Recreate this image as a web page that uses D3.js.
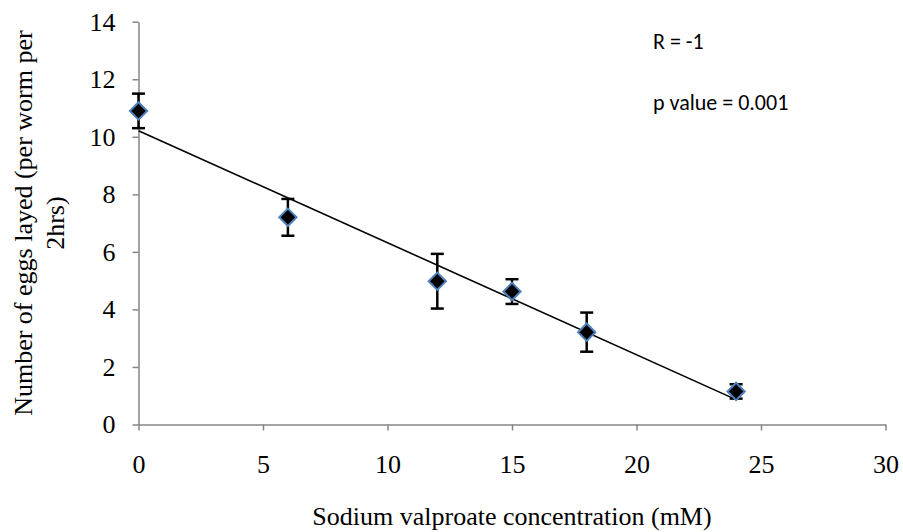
<!DOCTYPE html>
<html>
<head>
<meta charset="utf-8">
<script src="https://cdnjs.cloudflare.com/ajax/libs/d3/7.8.5/d3.min.js"></script>
<style>
  body { margin: 0; background: #fff; }
  svg { display: block; }
  .tick text { font-family: "Liberation Serif", "Times New Roman", serif; font-size: 26px; fill: #000; }
  .axis path, .axis line { stroke: #868686; stroke-width: 1.5px; }
</style>
</head>
<body>
<div id="chart"></div>
<script>
// sodium valproate concentration (mM)
var concentrations = [0, 6, 12, 15, 18, 24];
// mean eggs layed per worm per 2hrs
var eggsLayed = [10.9, 7.2, 4.98, 4.62, 3.21, 1.15];
// error bar half length
var eggsError = [0.6, 0.64, 0.95, 0.43, 0.68, 0.25];

var xTicks = [0, 5, 10, 15, 20, 25, 30];
var yTicks = [0, 2, 4, 6, 8, 10, 12, 14];

var svgWidth = 903;
var svgHeight = 532;

var margin = { top: 21.7, right: 17.5, bottom: 107.5, left: 138.5 };
var width = svgWidth - margin.left - margin.right;
var height = svgHeight - margin.top - margin.bottom;

var svg = d3.select("#chart")
  .append("svg")
  .attr("width", svgWidth)
  .attr("height", svgHeight);

var chartGroup = svg.append("g")
  .attr("transform", `translate(${margin.left}, ${margin.top})`);

var data = concentrations.map((c, i) => ({ x: c, y: eggsLayed[i], err: eggsError[i] }));

// scales
var xLinearScale = d3.scaleLinear().domain([0, 30]).range([0, width]);
var yLinearScale = d3.scaleLinear().domain([0, 14]).range([height, 0]);

// axes
var bottomAxis = d3.axisBottom(xLinearScale)
  .tickValues(xTicks)
  .tickSizeInner(6)
  .tickSizeOuter(0)
  .tickPadding(24);

var leftAxis = d3.axisLeft(yLinearScale)
  .tickValues(yTicks)
  .tickSizeInner(6)
  .tickSizeOuter(0)
  .tickPadding(17);

chartGroup.append("g")
  .attr("class", "axis")
  .attr("transform", `translate(0, ${height})`)
  .call(bottomAxis);

chartGroup.append("g")
  .attr("class", "axis")
  .call(leftAxis);

// linear trend line (least squares fit of the points)
var meanX = d3.mean(data, d => d.x);
var meanY = d3.mean(data, d => d.y);
var slope = d3.sum(data, d => (d.x - meanX) * (d.y - meanY)) / d3.sum(data, d => (d.x - meanX) * (d.x - meanX));
var intercept = meanY - slope * meanX;
var xExtent = d3.extent(data, d => d.x);

chartGroup.append("line")
  .attr("x1", xLinearScale(xExtent[0]))
  .attr("y1", yLinearScale(intercept + slope * xExtent[0]))
  .attr("x2", xLinearScale(xExtent[1]))
  .attr("y2", yLinearScale(intercept + slope * xExtent[1]))
  .attr("stroke", "#000")
  .attr("stroke-width", 1.6);

// error bars
var errGroup = chartGroup.selectAll(".err")
  .data(data)
  .enter()
  .append("g")
  .attr("class", "err")
  .attr("stroke", "#000")
  .attr("stroke-width", 2.5);

errGroup.append("line")
  .attr("x1", d => xLinearScale(d.x))
  .attr("x2", d => xLinearScale(d.x))
  .attr("y1", d => yLinearScale(d.y + d.err))
  .attr("y2", d => yLinearScale(d.y - d.err));

errGroup.append("line")
  .attr("x1", d => xLinearScale(d.x) - 6.5)
  .attr("x2", d => xLinearScale(d.x) + 6.5)
  .attr("y1", d => yLinearScale(d.y + d.err))
  .attr("y2", d => yLinearScale(d.y + d.err));

errGroup.append("line")
  .attr("x1", d => xLinearScale(d.x) - 6.5)
  .attr("x2", d => xLinearScale(d.x) + 6.5)
  .attr("y1", d => yLinearScale(d.y - d.err))
  .attr("y2", d => yLinearScale(d.y - d.err));

// diamond markers
chartGroup.selectAll(".marker")
  .data(data)
  .enter()
  .append("path")
  .attr("class", "marker")
  .attr("d", d3.symbol().type(d3.symbolSquare).size(150))
  .attr("transform", d => `translate(${xLinearScale(d.x)}, ${yLinearScale(d.y)}) rotate(45)`)
  .attr("fill", "#000")
  .attr("stroke", "#4f81bd")
  .attr("stroke-width", 2);

// axis titles
svg.append("text")
  .attr("x", margin.left + width / 2)
  .attr("y", 525)
  .attr("text-anchor", "middle")
  .style("font-family", "'Liberation Serif', 'Times New Roman', serif")
  .style("font-size", "26px")
  .text("Sodium valproate concentration (mM)");

var yLabel = svg.append("text")
  .attr("transform", "rotate(-90)")
  .attr("text-anchor", "middle")
  .style("font-family", "'Liberation Serif', 'Times New Roman', serif")
  .style("font-size", "26px");

yLabel.append("tspan")
  .attr("x", -(margin.top + height / 2))
  .attr("y", 32)
  .text("Number of eggs layed (per worm per");

yLabel.append("tspan")
  .attr("x", -(margin.top + height / 2))
  .attr("y", 64)
  .text("2hrs)");

// statistics annotation
var statsText = ["R = -1", "p value = 0.001"];

svg.selectAll(".stats")
  .data(statsText)
  .enter()
  .append("text")
  .attr("class", "stats")
  .attr("x", 653)
  .attr("y", (d, i) => 49 + i * 61)
  .style("font-family", "Carlito, Calibri, Lato, sans-serif")
  .style("font-size", "22px")
  .attr("fill", "#000")
  .text(d => d);
</script>
</body>
</html>
